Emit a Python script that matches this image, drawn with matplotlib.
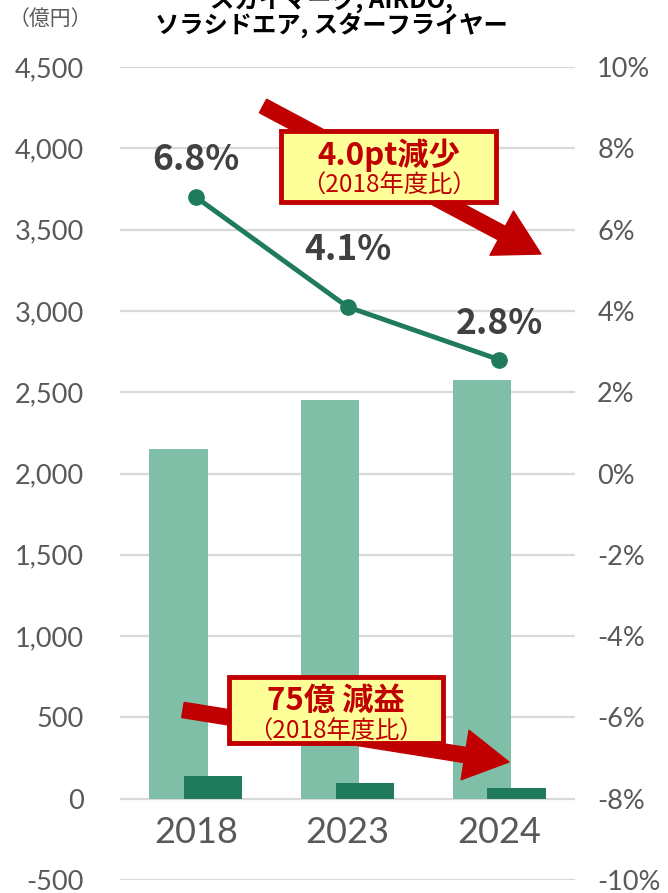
import matplotlib
matplotlib.use('Agg')
import matplotlib.pyplot as plt
from matplotlib.patches import Rectangle
from matplotlib.text import Annotation
import numpy as np

plt.rcParams['font.family'] = ['Noto Sans CJK JP', 'DejaVu Sans']

# data
years = ['2018', '2023', '2024']
revenue = [2150, 2455, 2575]      # 売上 (億円)
profit = [142, 95, 67]            # 営業利益 (億円)
margin = [6.8, 4.1, 2.8]          # 利益率 (%)
margin_labels = ['6.8%', '4.1%', '2.8%']
left_ticks = [-500, 0, 500, 1000, 1500, 2000, 2500, 3000, 3500, 4000, 4500]
right_ticks = [-10, -8, -6, -4, -2, 0, 2, 4, 6, 8, 10]

W, H = 668, 893
fig = plt.figure(figsize=(W / 100, H / 100), dpi=100)
ax = fig.add_axes([120 / W, 1 - 880 / H, 455 / W, 813 / H])
ax2 = ax.twinx()

light = '#7FBFA8'
dark = '#1F7B5C'
red = '#C00000'
grey = '#595959'
numfont = dict(family=['Lato', 'DejaVu Sans'], weight='normal')

x = np.arange(len(years))
bw = 0.385
ax.bar(x - 0.115, revenue, bw, color=light, zorder=2)
ax.bar(x + 0.115, profit, bw, color=dark, zorder=3)

ax.set_xlim(-0.5, 2.5)
ax.set_ylim(-500, 4500)
ax.set_yticks(left_ticks)
ax.set_yticklabels(['{:,}'.format(v) for v in left_ticks], fontdict=numfont)
ax.grid(axis='y', color='#D9D9D9', lw=1.6, zorder=0)
ax.set_axisbelow(True)
ax.set_xticks([])
for s in ax.spines.values():
    s.set_visible(False)
ax.tick_params(axis='y', length=0, pad=26, labelsize=19.5, labelcolor=grey)

for i, yr in enumerate(years):
    ax.text(x[i], -205, yr, ha='center', va='center', fontsize=26, color=grey,
            **numfont)

ax2.plot(x, margin, color=dark, lw=3.5, marker='o', ms=11, zorder=4)
ax2.set_ylim(-10, 10)
ax2.set_yticks(right_ticks)
ax2.set_yticklabels(['{}%'.format(v) for v in right_ticks], fontdict=numfont)
for s in ax2.spines.values():
    s.set_visible(False)
ax2.tick_params(axis='y', length=0, pad=16, labelsize=19.5, labelcolor=grey)

offs = [27, 41, 26]
for i in range(len(x)):
    ax2.annotate(margin_labels[i], (x[i], margin[i]), xytext=(0, offs[i]),
                 textcoords='offset points', ha='center', va='center',
                 fontsize=25.5, fontweight='bold', color='#404040')

# title (first line cut at top edge like the source)
fig.text(331 / W, 1 - 1 / H, 'スカイマーク, AIRDO,', ha='center', va='center',
         fontsize=17.5, fontweight='bold', color='black')
fig.text(331 / W, 1 - 25 / H, 'ソラシドエア, スターフライヤー', ha='center', va='center',
         fontsize=17.5, fontweight='bold', color='black')
fig.text(50 / W, 1 - 19 / H, '（億円）', ha='center', va='center',
         fontsize=15, color=grey)


def arrow(x0, y0, x1, y1):
    fig.add_artist(Annotation(
        '', xy=(x1, H - y1), xytext=(x0, H - y0),
        xycoords='figure pixels', textcoords='figure pixels',
        arrowprops=dict(arrowstyle='simple,head_length=3.2,head_width=3.6,tail_width=1.1',
                        color=red, shrinkA=0, shrinkB=0, mutation_scale=10),
        zorder=1))


def box(x0, y0, x1, y1, big, small):
    fig.add_artist(Rectangle((x0 / W, 1 - y1 / H), (x1 - x0) / W, (y1 - y0) / H,
                             transform=fig.transFigure, fc='#FFFF99', ec=red, lw=3.5,
                             zorder=2))
    cx = (x0 + x1) / 2 / W
    fig.text(cx, 1 - (y0 + 24) / H, big, ha='center', va='center', fontsize=22.5,
             fontweight='bold', color=red, zorder=3)
    fig.text(cx, 1 - (y0 + 55) / H, small, ha='center', va='center', fontsize=17.5,
             color=red, zorder=3)


arrow(263, 106, 541, 254)
box(281, 131, 496, 202, '4.0pt減少', '（2018年度比）')
arrow(183, 710, 509, 762)
box(229, 677, 443, 743, '75億 減益', '（2018年度比）')

fig.savefig('out.png', dpi=100)
